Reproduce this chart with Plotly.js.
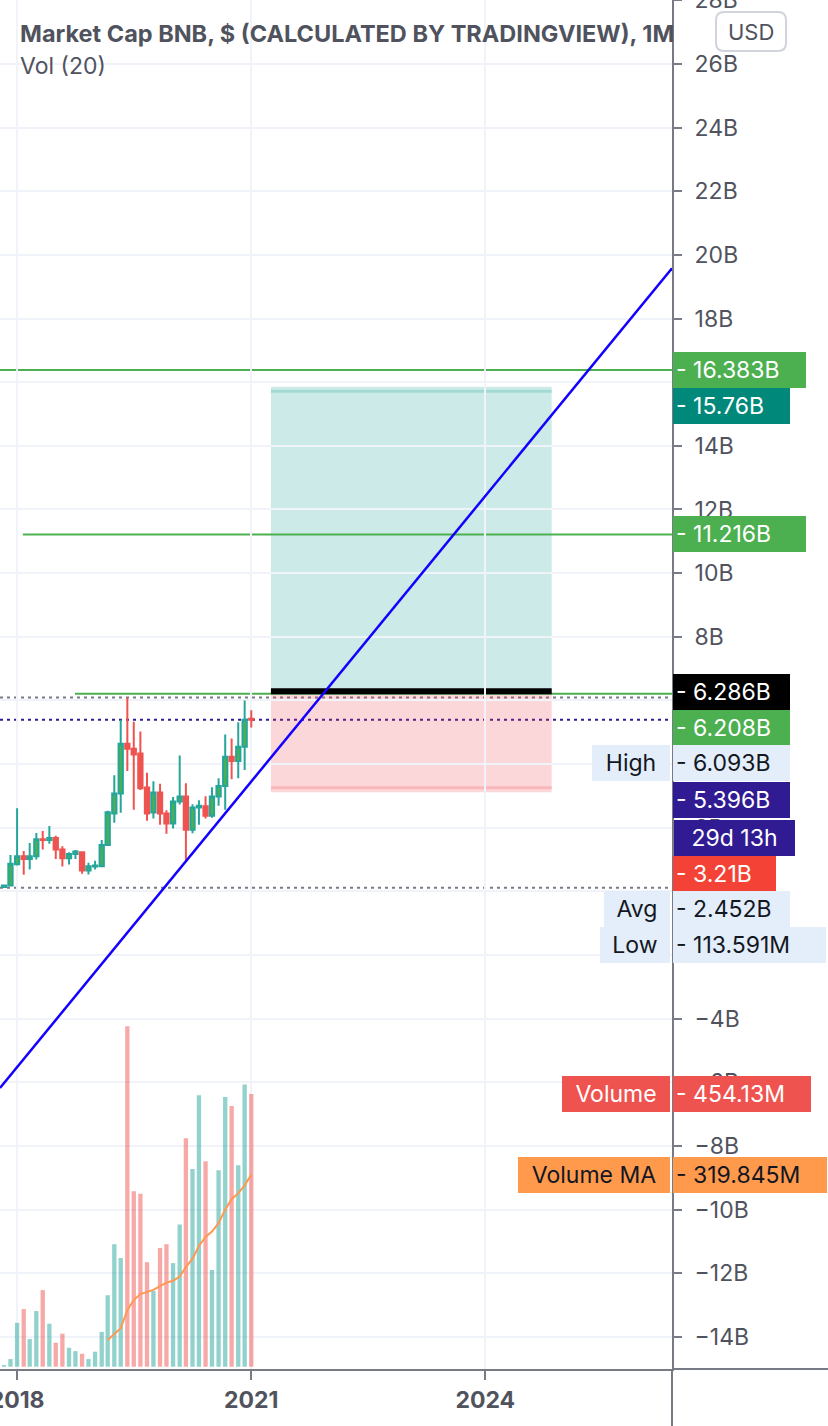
<!DOCTYPE html>
<html>
<head>
<meta charset="utf-8">
<script src="https://cdn.plot.ly/plotly-3.0.1.min.js"></script>
<style>
html,body{margin:0;padding:0;background:#ffffff;}
#chart{width:828px;height:1426px;}
</style>
</head>
<body>
<div id="chart"></div>
<script>
// ---------------- DATA ----------------
const months = ['2017-11-01','2017-12-01','2018-01-01','2018-02-01','2018-03-01','2018-04-01','2018-05-01','2018-06-01','2018-07-01','2018-08-01','2018-09-01','2018-10-01','2018-11-01','2018-12-01','2019-01-01','2019-02-01','2019-03-01','2019-04-01','2019-05-01','2019-06-01','2019-07-01','2019-08-01','2019-09-01','2019-10-01','2019-11-01','2019-12-01','2020-01-01','2020-02-01','2020-03-01','2020-04-01','2020-05-01','2020-06-01','2020-07-01','2020-08-01','2020-09-01','2020-10-01','2020-11-01','2020-12-01','2021-01-01'];
// market cap, billions USD
const opens  = [0.135,0.187,0.853,1.103,1.020,1.103,1.635,1.614,1.676,1.312,1.041,1.176,1.228,0.655,0.781,0.791,1.458,2.447,3.072,4.635,4.478,4.333,3.260,2.478,3.103,2.447,2.135,2.822,2.978,1.937,2.635,2.676,2.374,2.978,3.312,4.228,4.093,4.541,5.420];
const highs  = [0.218,1.145,2.614,1.270,1.520,1.833,1.895,2.051,1.749,1.416,1.228,1.301,1.260,0.895,0.958,1.614,2.530,3.645,5.395,6.093,5.333,5.020,3.728,3.458,3.385,2.551,2.968,4.270,3.395,2.739,2.864,2.989,3.270,3.551,4.926,4.801,5.312,5.999,5.694];
const lows   = [0.1136,0.166,0.812,0.520,0.687,0.999,1.312,1.499,1.020,0.780,0.843,1.020,0.551,0.530,0.687,0.780,1.437,2.155,2.468,3.780,2.562,3.187,2.218,2.291,2.093,1.812,1.978,2.728,0.968,1.822,2.093,2.291,2.312,2.687,2.562,3.520,3.551,3.812,5.150];
const closes = [0.187,0.864,1.103,1.020,1.103,1.635,1.614,1.676,1.312,1.041,1.176,1.249,0.655,0.791,0.812,1.458,2.489,3.072,4.635,4.478,4.301,3.239,2.447,3.103,2.447,2.135,2.822,2.978,1.937,2.635,2.687,2.374,2.978,3.312,4.228,4.093,4.541,5.395,5.396];
// volume, millions USD
const volumes = [2.8,12.8,73,96,46,92.7,127.6,71.6,40,55,31.6,26,21.6,12.8,25,58,119,204,181,567,292,288,174,126,197.5,204,172.5,237,380.5,329,452,342,161,327,449,434,335.6,470,454.13];
const volumeMA = [null,null,null,null,null,null,null,null,null,null,null,null,null,null,null,null,44.4,54,64,94,111,121,124,128,134,140,143,150,166,180,201,216,225,239,262,279,289,302,319.845];

const yTickValues = [-14,-12,-10,-8,-6,-4,-2,0,2,4,6,8,10,12,14,16,18,20,22,24,26,28];
const xTickDates = ['2018-01-01','2021-01-01','2024-01-01'];
const xTickLabels = ['2018','2021','2024'];

// drawings
const rayLevels = [16.383, 11.216, 6.208];
const rayStarts = ['2017-10-13','2018-01-28','2018-09-29'];
const positionDates = ['2021-04-03','2024-11-07'];
const entryPrice = 6.286, targetPrice = 15.76, stopPrice = 3.21;
const trendDates = ['2017-10-13','2026-05-24'];
const trendValues = [-6.18, 19.58];
const statHigh = 6.093, statLow = 0.113591, statAvg = 2.452, lastClose = 5.396;
const lastVolume = 454.13, lastVolumeMA = 319.845;

// ---------------- LAYOUT HELPERS ----------------
const W = 828, H = 1426;
const M = {l:0, r:156, t:0, b:57};
const PW = W - M.l - M.r, PH = H - M.t - M.b;
const px2x = p => (p - M.l) / PW;
const px2y = p => 1 - (p - M.t) / PH;
const FONT = 'Inter, "Noto Sans", sans-serif';
const AXIS_TXT = '#50535e';
const AXIS_LINE = '#787b86';
const GRID = '#f0f3fa';
const XR = ['2017-10-13','2026-05-24'];

const upColor = '#26a69a', downColor = '#ef5350';
const volColors = closes.map((c,i) => c >= opens[i] ? 'rgba(38,166,154,0.5)' : 'rgba(239,83,80,0.5)');

const traces = [
  {
    type: 'candlestick', x: months, open: opens, high: highs, low: lows, close: closes,
    xaxis: 'x', yaxis: 'y', showlegend: false, hoverinfo: 'skip', whiskerwidth: 0,
    increasing: {line: {color: upColor, width: 2}, fillcolor: '#4caf50'},
    decreasing: {line: {color: downColor, width: 2}, fillcolor: downColor}
  },
  {
    type: 'bar', x: months, y: volumes, xaxis: 'x', yaxis: 'y2', showlegend: false, hoverinfo: 'skip',
    marker: {color: volColors, line: {width: 0}}
  },
  {
    type: 'scatter', mode: 'lines', x: months, y: volumeMA, xaxis: 'x', yaxis: 'y2', showlegend: false, hoverinfo: 'skip',
    line: {color: '#ff9850', width: 2}, connectgaps: false
  },
  {
    type: 'scatter', mode: 'lines', x: trendDates, y: trendValues, xaxis: 'x', yaxis: 'y', showlegend: false, hoverinfo: 'skip',
    line: {color: '#1400ff', width: 2.5}, cliponaxis: true
  }
];

const shapes = [];
// position tool
shapes.push({type:'rect', xref:'x', yref:'y', x0:positionDates[0], x1:positionDates[1], y0:entryPrice, y1:targetPrice, fillcolor:'rgba(0,150,136,0.2)', line:{width:0}, layer:'below'});
shapes.push({type:'line', xref:'x', yref:'y', x0:positionDates[0], x1:positionDates[1], y0:targetPrice, y1:targetPrice, line:{color:'rgba(0,150,136,0.2)', width:6}, layer:'below'});
shapes.push({type:'rect', xref:'x', yref:'y', x0:positionDates[0], x1:positionDates[1], y0:stopPrice, y1:entryPrice, fillcolor:'rgba(242,54,69,0.2)', line:{width:0}, layer:'below'});
shapes.push({type:'line', xref:'x', yref:'y', x0:positionDates[0], x1:positionDates[1], y0:stopPrice, y1:stopPrice, line:{color:'rgba(242,54,69,0.2)', width:6}, layer:'below'});
// horizontal rays
rayLevels.forEach((lv,i) => shapes.push({type:'line', xref:'x', yref:'y', x0:rayStarts[i], x1:XR[1], y0:lv, y1:lv, line:{color:'#4caf50', width:2}, layer:'below'}));
// entry bar
shapes.push({type:'line', xref:'x', yref:'y', x0:positionDates[0], x1:positionDates[1], y0:entryPrice, y1:entryPrice, line:{color:'#000000', width:6}, layer:'below'});
// dotted stat lines
shapes.push({type:'line', xref:'paper', yref:'y', x0:0, x1:1, y0:statHigh, y1:statHigh, line:{color:AXIS_LINE, width:2, dash:'3px,4px'}, layer:'below'});
shapes.push({type:'line', xref:'paper', yref:'y', x0:0, x1:1, y0:statLow, y1:statLow, line:{color:AXIS_LINE, width:2, dash:'3px,4px'}, layer:'below'});
shapes.push({type:'line', xref:'paper', yref:'y', x0:0, x1:1, y0:lastClose, y1:lastClose, line:{color:'#311b92', width:2, dash:'3px,4px'}, layer:'below'});
// pane separators extending into margins
shapes.push({type:'line', xref:'paper', yref:'paper', x0:1, x1:px2x(W), y0:0, y1:0, line:{color:AXIS_LINE, width:2}});
shapes.push({type:'line', xref:'paper', yref:'paper', x0:1, x1:1, y0:0, y1:px2y(H), line:{color:AXIS_LINE, width:2}});
// USD button (rounded)
(function(){
  const x0=716, y0=12, x1=786, y1=51, r=8;
  const P = (x,y) => px2x(x) + ',' + px2y(y);
  const path = 'M' + P(x0+r,y0) + ' L' + P(x1-r,y0) + ' Q' + P(x1,y0) + ' ' + P(x1,y0+r) +
    ' L' + P(x1,y1-r) + ' Q' + P(x1,y1) + ' ' + P(x1-r,y1) + ' L' + P(x0+r,y1) + ' Q' + P(x0,y1) + ' ' + P(x0,y1-r) +
    ' L' + P(x0,y0+r) + ' Q' + P(x0,y0) + ' ' + P(x0+r,y0) + ' Z';
  shapes.push({type:'path', xref:'paper', yref:'paper', path:path, line:{color:'#d1d4dc', width:2}, fillcolor:'#ffffff'});
})();

const annotations = [];
function valueBox(text, y, yref, yshift, totalW, bg, fg, align, xshift) {
  const pad = 3;
  annotations.push({
    xref:'paper', x:1, xanchor:'left', xshift: (xshift === undefined ? 1 : xshift),
    yref:yref, y:y, yanchor:'middle', yshift:yshift,
    text:text, showarrow:false, font:{family:FONT, size:23, color:fg},
    bgcolor:bg, borderpad:pad, borderwidth:0, width:totalW - 2*pad, height:36 - 2*pad, align:align || 'left'
  });
}
function nameBox(text, y, yref, yshift, totalW, bg, fg) {
  const pad = 3;
  annotations.push({
    xref:'paper', x:1, xanchor:'right', xshift:-2,
    yref:yref, y:y, yanchor:'middle', yshift:yshift,
    text:text, showarrow:false, font:{family:FONT, size:23, color:fg},
    bgcolor:bg, borderpad:pad, borderwidth:0, width:totalW - 2*pad, height:36 - 2*pad, align:'center'
  });
}
const fmtB = v => '- ' + v + 'B';
const LIGHT = '#e3eefa', DARK = '#131722';
valueBox(fmtB(rayLevels[0]), rayLevels[0], 'y', 0, 133, '#4caf50', '#ffffff');
valueBox(fmtB(targetPrice), targetPrice, 'y', -16, 117, '#00897b', '#ffffff');
valueBox(fmtB(rayLevels[1]), rayLevels[1], 'y', 0, 133, '#4caf50', '#ffffff');
valueBox(fmtB(entryPrice), entryPrice, 'y', -1, 117, '#000000', '#ffffff');
valueBox(fmtB(rayLevels[2]), rayLevels[2], 'y', -34, 117, '#4caf50', '#ffffff');
nameBox('High', statHigh, 'y', -66, 78, LIGHT, DARK);
valueBox(fmtB(statHigh), statHigh, 'y', -66, 117, LIGHT, DARK);
valueBox(fmtB(lastClose), lastClose, 'y', -80, 117, '#311b92', '#ffffff');
valueBox('29d 13h', lastClose, 'y', -118.5, 121, '#311b92', '#ffffff', 'center', 2);
valueBox(fmtB(stopPrice), stopPrice, 'y', -85, 103, '#f44336', '#ffffff');
nameBox('Avg', statAvg, 'y', -96, 66, LIGHT, DARK);
valueBox(fmtB(statAvg), statAvg, 'y', -96, 117, LIGHT, DARK);
nameBox('Low', statLow, 'y', -57.5, 70, LIGHT, DARK);
valueBox('- ' + (statLow*1000).toFixed(3) + 'M', statLow, 'y', -57.5, 153, LIGHT, DARK);
nameBox('Volume', lastVolume, 'y2', 0, 108, '#ef5350', '#ffffff');
valueBox('- ' + lastVolume + 'M', lastVolume, 'y2', 0, 138, '#ef5350', '#ffffff');
nameBox('Volume MA', lastVolumeMA, 'y2', 0, 152, '#ff9a4d', DARK);
valueBox('- ' + lastVolumeMA + 'M', lastVolumeMA, 'y2', 0, 154, '#ff9a4d', DARK);

// legend texts
annotations.push({xref:'paper', yref:'paper', x:px2x(18), y:px2y(33), xanchor:'left', yanchor:'middle', showarrow:false,
  text:'<b>Market Cap BNB, $ (CALCULATED BY TRADINGVIEW), 1M</b>', font:{family:FONT, size:23.5, color:AXIS_TXT}});
annotations.push({xref:'paper', yref:'paper', x:px2x(18), y:px2y(66), xanchor:'left', yanchor:'middle', showarrow:false,
  text:'Vol (20)', font:{family:FONT, size:23, color:AXIS_TXT}});
annotations.push({xref:'paper', yref:'paper', x:px2x(751), y:px2y(32), xanchor:'center', yanchor:'middle', showarrow:false,
  text:'USD', font:{family:FONT, size:22, color:AXIS_TXT}});

const layout = {
  width: W, height: H, margin: M, paper_bgcolor: '#ffffff', plot_bgcolor: '#ffffff',
  showlegend: false, dragmode: false, hovermode: false,
  boxgap: 0.28, boxgroupgap: 0, bargap: 0.28,
  xaxis: {
    type: 'date', range: XR, tickvals: xTickDates, ticktext: xTickLabels,
    showgrid: true, gridcolor: GRID, gridwidth: 2, zeroline: false,
    showline: true, linecolor: AXIS_LINE, linewidth: 2,
    ticks: 'outside', ticklen: 9, tickwidth: 2, tickcolor: AXIS_LINE,
    tickfont: {family: FONT, size: 23, color: AXIS_TXT, weight: 700},
    ticklabeloverflow: 'allow',
    rangeslider: {visible: false}, fixedrange: true
  },
  yaxis: {
    side: 'right', range: [-15.01, 28.01], tickvals: yTickValues,
    ticktext: yTickValues.map(v => (v < 0 ? '\u2212' + (-v) : v) + 'B'),
    showgrid: true, gridcolor: GRID, gridwidth: 2, zeroline: false,
    showline: true, linecolor: AXIS_LINE, linewidth: 2,
    ticks: 'outside', ticklen: 8, tickwidth: 2, tickcolor: AXIS_LINE,
    tickfont: {family: FONT, size: 23, color: AXIS_TXT}, ticklabelstandoff: 8,
    ticklabeloverflow: 'allow', fixedrange: true
  },
  yaxis2: {
    overlaying: 'y', side: 'left', range: [-3.8, 2275.6], visible: false, fixedrange: true
  },
  shapes: shapes,
  annotations: annotations
};

Plotly.newPlot('chart', traces, layout, {staticPlot: true, displayModeBar: false, responsive: false});
</script>
</body>
</html>
